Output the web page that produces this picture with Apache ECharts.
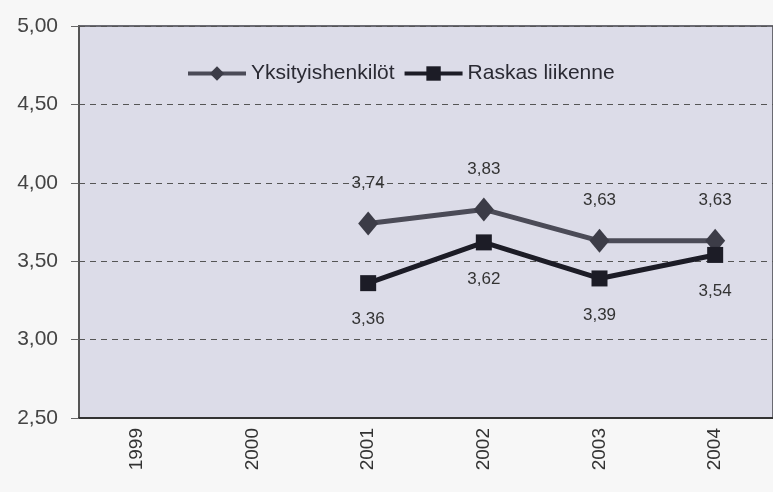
<!DOCTYPE html>
<html>
<head>
<meta charset="utf-8">
<script src="https://cdn.jsdelivr.net/npm/echarts@6/dist/echarts.min.js"></script>
<style>
  html, body { margin: 0; padding: 0; background: #f7f7f7; }
  .data { width: 773px; height: 492px; }
</style>
</head>
<body>
<div class="data"></div>
<script>
const years = ['1999', '2000', '2001', '2002', '2003', '2004']
const yksityiset = [null, null, 3.74, 3.83, 3.63, 3.63]
const raskas = [null, null, 3.36, 3.62, 3.39, 3.54]
const seriesNames = ['Yksityishenkilöt', 'Raskas liikenne']

const font = "'Liberation Sans', Arial, sans-serif"
const comma = v => v.toFixed(2).replace('.', ',')

let myChart = echarts.init(document.querySelector('.data'))
let option = {
    backgroundColor: '#f7f7f7',
    animation: false,
    textStyle: { fontFamily: font },
    legend: {
        left: 181,
        top: 58,
        itemWidth: 58,
        itemHeight: 18,
        itemGap: 8,
        lineStyle: { width: 4 },
        textStyle: { fontFamily: font, fontSize: 21, color: '#2a2a33' },
        data: seriesNames
    },
    grid: {
        left: 79, top: 26, bottom: 74, right: -4,
        show: true,
        backgroundColor: '#dcdce8',
        borderColor: '#6a6a72',
        borderWidth: 2
    },
    xAxis: {
        type: 'category',
        data: years,
        boundaryGap: true,
        axisLine: { lineStyle: { color: '#333', width: 2 } },
        axisTick: { show: false },
        axisLabel: { rotate: 90, margin: 10, fontFamily: font, fontSize: 19, color: '#333' }
    },
    yAxis: {
        type: 'value',
        min: 2.5,
        max: 5,
        interval: 0.5,
        axisLine: { show: true, lineStyle: { color: '#555', width: 2 } },
        axisTick: { show: true, length: 8, lineStyle: { color: '#666' } },
        axisLabel: { margin: 21, fontFamily: font, fontSize: 21, color: '#444', formatter: comma },
        splitLine: { lineStyle: { color: '#555', type: [6, 5], width: 1 } }
    },
    series: [{
            name: seriesNames[0],
            type: 'line',
            data: yksityiset,
            symbol: 'diamond',
            symbolSize: [20, 24],
            color: '#3c3c47',
            lineStyle: { width: 5, color: '#4b4b57' },
            label: {
                show: true, position: 'top', distance: 20,
                fontFamily: font, fontSize: 17, color: '#333',
                formatter: p => comma(p.value)
            }
        },
        {
            name: seriesNames[1],
            type: 'line',
            data: raskas,
            symbol: 'rect',
            symbolSize: 16,
            color: '#1c1c26',
            lineStyle: { width: 5, color: '#1c1c26' },
            label: {
                show: true, position: 'bottom', distance: 20,
                fontFamily: font, fontSize: 17, color: '#333',
                formatter: p => comma(p.value)
            }
        }
    ]
}
myChart.setOption(option)
</script>
</body>
</html>
